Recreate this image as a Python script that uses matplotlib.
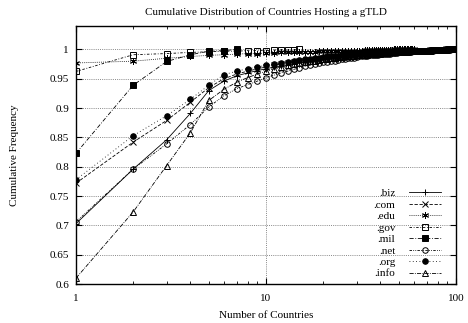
import matplotlib
matplotlib.use("Agg")
import matplotlib.pyplot as plt

plt.rcParams['font.family'] = ['Liberation Serif', 'DejaVu Serif']

biz = [0.703, 0.796, 0.846, 0.891, 0.930, 0.946, 0.955, 0.960, 0.964, 0.967,
       0.970, 0.972, 0.974, 0.976, 0.978, 0.979, 0.980, 0.981, 0.982, 0.983,
       0.984, 0.985, 0.986, 0.986, 0.987, 0.988, 0.988, 0.989, 0.989, 0.990,
       0.990, 0.991, 0.991, 0.991, 0.992, 0.992, 0.992, 0.993, 0.993, 0.993,
       0.994, 0.994, 0.994, 0.994, 0.995, 0.995, 0.995, 0.995, 0.995, 0.996,
       0.996, 0.996, 0.996, 0.996, 0.996, 0.997, 0.997, 0.997, 0.997, 0.997,
       0.997, 0.997, 0.997, 0.998, 0.998, 0.998, 0.998, 0.998, 0.998, 0.998,
       0.998, 0.998, 0.998, 0.999, 0.999, 0.999, 0.999, 0.999, 0.999, 0.999,
       0.999, 0.999, 0.999, 0.999, 0.999, 0.999, 0.999, 0.999, 0.999, 1.000,
       1.000, 1.000, 1.000, 1.000, 1.000, 1.000, 1.000, 1.000, 1.000, 1.000]
com = [0.772, 0.842, 0.879, 0.910, 0.935, 0.950, 0.958, 0.963, 0.967, 0.970,
       0.973, 0.975, 0.977, 0.979, 0.980, 0.981, 0.982, 0.983, 0.984, 0.985,
       0.986, 0.987, 0.987, 0.988, 0.988, 0.989, 0.989, 0.990, 0.990, 0.991,
       0.991, 0.991, 0.992, 0.992, 0.992, 0.993, 0.993, 0.993, 0.994, 0.994,
       0.994, 0.994, 0.995, 0.995, 0.995, 0.995, 0.995, 0.996, 0.996, 0.996,
       0.996, 0.996, 0.996, 0.997, 0.997, 0.997, 0.997, 0.997, 0.997, 0.997,
       0.997, 0.998, 0.998, 0.998, 0.998, 0.998, 0.998, 0.998, 0.998, 0.998,
       0.998, 0.998, 0.999, 0.999, 0.999, 0.999, 0.999, 0.999, 0.999, 0.999,
       0.999, 0.999, 0.999, 0.999, 0.999, 0.999, 0.999, 0.999, 1.000, 1.000,
       1.000, 1.000, 1.000, 1.000, 1.000, 1.000, 1.000, 1.000, 1.000, 1.000]
edu = [0.977, 0.980, 0.985, 0.988, 0.990, 0.991, 0.992, 0.993, 0.993, 0.994,
       0.994, 0.995, 0.995, 0.995, 0.996, 0.996, 0.996, 0.996, 0.997, 0.997,
       0.997, 0.997, 0.997, 0.997, 0.998, 0.998, 0.998, 0.998, 0.998, 0.998,
       0.998, 0.998, 0.999, 0.999, 0.999, 0.999, 0.999, 0.999, 0.999, 0.999,
       0.999, 0.999, 0.999, 0.999, 0.999, 0.999, 1.000, 1.000, 1.000, 1.000,
       1.000, 1.000, 1.000, 1.000, 1.000, 1.000, 1.000, 1.000, 1.000, 1.000]
gov = [0.9625, 0.991, 0.993, 0.995, 0.996, 0.997, 0.997, 0.998, 0.998, 0.998,
       0.999, 0.999, 0.999, 0.999, 1.000]
mil = [0.823, 0.939, 0.9795, 0.991, 0.997, 0.998, 1.000]
net = [0.706, 0.796, 0.839, 0.872, 0.902, 0.921, 0.933, 0.940, 0.946, 0.952,
       0.956, 0.960, 0.963, 0.966, 0.969, 0.971, 0.973, 0.975, 0.977, 0.978,
       0.979, 0.980, 0.981, 0.982, 0.983, 0.984, 0.985, 0.986, 0.986, 0.987,
       0.988, 0.988, 0.989, 0.989, 0.990, 0.990, 0.991, 0.991, 0.991, 0.992,
       0.992, 0.992, 0.993, 0.993, 0.993, 0.994, 0.994, 0.994, 0.994, 0.995,
       0.995, 0.995, 0.995, 0.996, 0.996, 0.996, 0.996, 0.996, 0.997, 0.997,
       0.997, 0.997, 0.997, 0.997, 0.997, 0.998, 0.998, 0.998, 0.998, 0.998,
       0.998, 0.998, 0.998, 0.998, 0.998, 0.998, 0.999, 0.999, 0.999, 0.999,
       0.999, 0.999, 0.999, 0.999, 0.999, 0.999, 0.999, 0.999, 0.999, 0.999,
       0.999, 0.999, 0.999, 1.000, 1.000, 1.000, 1.000, 1.000, 1.000, 1.000]
org = [0.778, 0.853, 0.887, 0.915, 0.939, 0.957, 0.963, 0.967, 0.970, 0.973,
       0.975, 0.977, 0.979, 0.981, 0.982, 0.983, 0.984, 0.985, 0.986, 0.987,
       0.988, 0.988, 0.989, 0.989, 0.990, 0.990, 0.991, 0.991, 0.991, 0.992,
       0.992, 0.992, 0.993, 0.993, 0.993, 0.993, 0.994, 0.994, 0.994, 0.994,
       0.995, 0.995, 0.995, 0.995, 0.995, 0.995, 0.996, 0.996, 0.996, 0.996,
       0.996, 0.996, 0.996, 0.997, 0.997, 0.997, 0.997, 0.997, 0.997, 0.997,
       0.997, 0.998, 0.998, 0.998, 0.998, 0.998, 0.998, 0.998, 0.998, 0.998,
       0.998, 0.998, 0.999, 0.999, 0.999, 0.999, 0.999, 0.999, 0.999, 0.999,
       0.999, 0.999, 0.999, 0.999, 0.999, 0.999, 0.999, 0.999, 1.000, 1.000,
       1.000, 1.000, 1.000, 1.000, 1.000, 1.000, 1.000, 1.000, 1.000, 1.000]
info = [0.610, 0.723, 0.802, 0.858, 0.913, 0.932, 0.944, 0.952, 0.958, 0.963,
        0.967, 0.970, 0.973, 0.975, 0.977, 0.979, 0.980, 0.981, 0.982, 0.983,
        0.984, 0.985, 0.986, 0.987, 0.987, 0.988, 0.988, 0.989, 0.989, 0.990,
        0.990, 0.991, 0.991, 0.991, 0.992, 0.992, 0.992, 0.993, 0.993, 0.993,
        0.994, 0.994, 0.994, 0.994, 0.995, 0.995, 0.995, 0.995, 0.995, 0.996,
        0.996, 0.996, 0.996, 0.996, 0.996, 0.997, 0.997, 0.997, 0.997, 0.997,
        0.997, 0.997, 0.997, 0.998, 0.998, 0.998, 0.998, 0.998, 0.998, 0.998,
        0.998, 0.998, 0.998, 0.999, 0.999, 0.999, 0.999, 0.999, 0.999, 0.999,
        0.999, 0.999, 0.999, 0.999, 0.999, 0.999, 0.999, 0.999, 0.999, 1.000,
        1.000, 1.000, 1.000, 1.000, 1.000, 1.000, 1.000, 1.000, 1.000, 1.000]

labels = ['.biz', '.com', '.edu', '.gov', '.mil', '.net', '.org', '.info']
series = [biz, com, edu, gov, mil, net, org, info]
markers = ['+', 'x', (6, 2, 0), 's', 's', 'o', 'o', '^']
fills = ['none', 'none', 'none', 'none', 'black', 'none', 'black', 'none']
styles = ['-', (0, (4, 2)), (0, (1, 1.5)), (0, (3, 2, 1, 2)),
          (0, (5, 2, 1, 2)), (0, (3, 1.5, 1, 1.5, 1, 1.5)), (0, (1, 3)),
          (0, (5, 1.5, 1, 1.5))]
sizes = [5, 4, 5, 4, 4, 4, 4, 4]

fig = plt.figure(figsize=(4.68, 3.23), dpi=100)
ax = fig.add_axes([0.1624, 0.1207, 0.812, 0.7988])

for lab, ys, mk, fc, ls, ms in zip(labels, series, markers, fills, styles, sizes):
    xs = list(range(1, len(ys) + 1))
    ax.plot(xs, ys, linestyle=ls, color='black', linewidth=0.6,
            marker=mk, markersize=ms, markerfacecolor=fc,
            markeredgecolor='black', markeredgewidth=0.7, label=lab)

ax.set_xscale('log')
ax.set_xlim(1, 100)
ax.set_ylim(0.6, 1.04)
ax.set_yticks([0.6, 0.65, 0.7, 0.75, 0.8, 0.85, 0.9, 0.95, 1.0])
ax.set_yticklabels(['0.6', '0.65', '0.7', '0.75', '0.8', '0.85', '0.9', '0.95', '1'])
ax.set_xticks([1, 10, 100])
ax.set_xticklabels(['1', '10', '100'])
ax.tick_params(which='both', direction='in', top=True, right=True, labelsize=8)
ax.tick_params(axis='x', which='major', pad=7)
ax.tick_params(axis='y', which='major', pad=5)
ax.tick_params(which='major', length=4)
ax.tick_params(which='minor', length=2.5)
ax.grid(True, which='major', linestyle=(0, (1, 1.2)), color='#888888', linewidth=0.7)
for s in ax.spines.values():
    s.set_linewidth(1.0)

ax.set_title('Cumulative Distribution of Countries Hosting a gTLD', fontsize=8, pad=8)
ax.set_xlabel('Number of Countries', fontsize=8, labelpad=6)
ax.set_ylabel('Cumulative Frequency', fontsize=8, labelpad=22)

leg = ax.legend(loc='lower right', markerfirst=False, frameon=False, fontsize=8,
                handlelength=2.9, labelspacing=0.15, handletextpad=1.2,
                borderaxespad=0.2, borderpad=0.3)
leg.set_bbox_to_anchor((0.975, 0.0), transform=ax.transAxes)

fig.savefig('out.png', dpi=100)
